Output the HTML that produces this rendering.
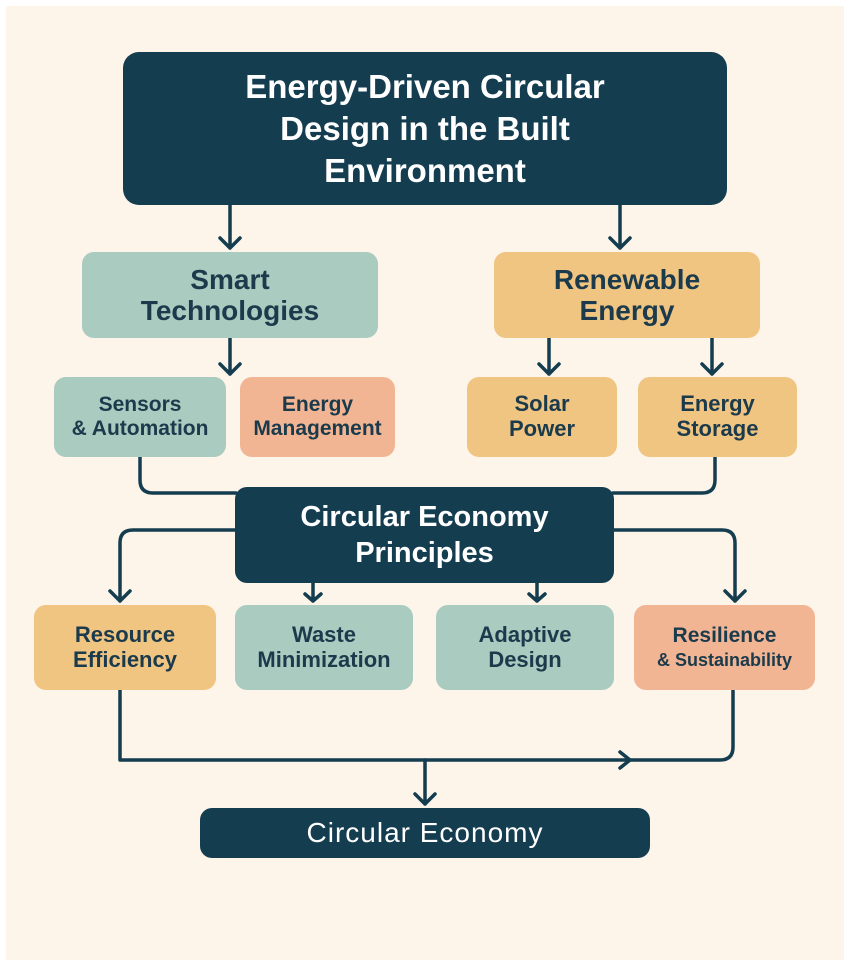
<!DOCTYPE html>
<html><head><meta charset="utf-8"><style>
body{margin:0;width:851px;height:966px;background:#fff;position:relative;overflow:hidden;font-family:"Liberation Sans",sans-serif}
.bg{position:absolute;left:6px;top:6px;width:838px;height:954px;background:#fdf4ea}
.b{position:absolute;display:flex;align-items:center;justify-content:center;text-align:center;font-weight:bold;color:#1b3a4b;border-radius:12px;line-height:1.12}
.d{background:#143d50;color:#fff}
.t{background:#a9cbc0}.o{background:#f0c481}.s{background:#f2b593}
svg{position:absolute;left:0;top:0}
</style></head><body>
<div class="bg"></div>
<svg width="851" height="966" fill="none" stroke="#143d50" stroke-width="3.5" stroke-linecap="round" stroke-linejoin="round">
<path d="M230 205V248M220 238L230 248L240 238"/>
<path d="M620 205V248M610 238L620 248L630 238"/>
<path d="M230 338V374M220 364L230 374L240 364"/>
<path d="M549 338V374M539 364L549 374L559 364"/>
<path d="M712 338V374M702 364L712 374L722 364"/>
<path d="M140 457V480Q140 493 153 493H236"/>
<path d="M715 457V480Q715 493 702 493H613"/>
<path d="M236 530H133Q120 530 120 543V601M110 591L120 601L130 591"/>
<path d="M613 530H722Q735 530 735 543V601M725 591L735 601L745 591"/>
<path d="M313 583V601M305 594L313 601L321 594"/>
<path d="M537 583V601M529 594L537 601L545 594"/>
<path d="M120 690V760H720Q733 760 733 747V690"/>
<path d="M620 752L630 760L620 768"/>
<path d="M425 760V804M415 794L425 804L435 794"/>
</svg>
<div class="b d" style="left:123px;top:52px;width:604px;height:153px;font-size:33px;border-radius:16px;line-height:42px">Energy-Driven Circular<br>Design in the Built<br>Environment</div>
<div class="b t" style="left:82px;top:252px;width:296px;height:86px;font-size:28px">Smart<br>Technologies</div>
<div class="b o" style="left:494px;top:252px;width:266px;height:86px;font-size:28px">Renewable<br>Energy</div>
<div class="b t" style="left:54px;top:377px;width:172px;height:80px;font-size:21px">Sensors<br>&amp; Automation</div>
<div class="b s" style="left:240px;top:377px;width:155px;height:80px;font-size:21px">Energy<br>Management</div>
<div class="b o" style="left:467px;top:377px;width:150px;height:80px;font-size:22px">Solar<br>Power</div>
<div class="b o" style="left:638px;top:377px;width:159px;height:80px;font-size:22px">Energy<br>Storage</div>
<div class="b d" style="left:235px;top:487px;width:379px;height:96px;font-size:29px;line-height:36px">Circular Economy<br>Principles</div>
<div class="b o" style="left:34px;top:605px;width:182px;height:85px;font-size:22px">Resource<br>Efficiency</div>
<div class="b t" style="left:235px;top:605px;width:178px;height:85px;font-size:22px">Waste<br>Minimization</div>
<div class="b t" style="left:436px;top:605px;width:178px;height:85px;font-size:22px">Adaptive<br>Design</div>
<div class="b s" style="left:634px;top:605px;width:181px;height:85px;font-size:21px"><div>Resilience<br><span style="font-size:18px">&amp; Sustainability</span></div></div>
<div class="b d" style="left:200px;top:808px;width:450px;height:50px;font-size:28px;font-weight:normal;letter-spacing:1px">Circular Economy</div>
</body></html>
